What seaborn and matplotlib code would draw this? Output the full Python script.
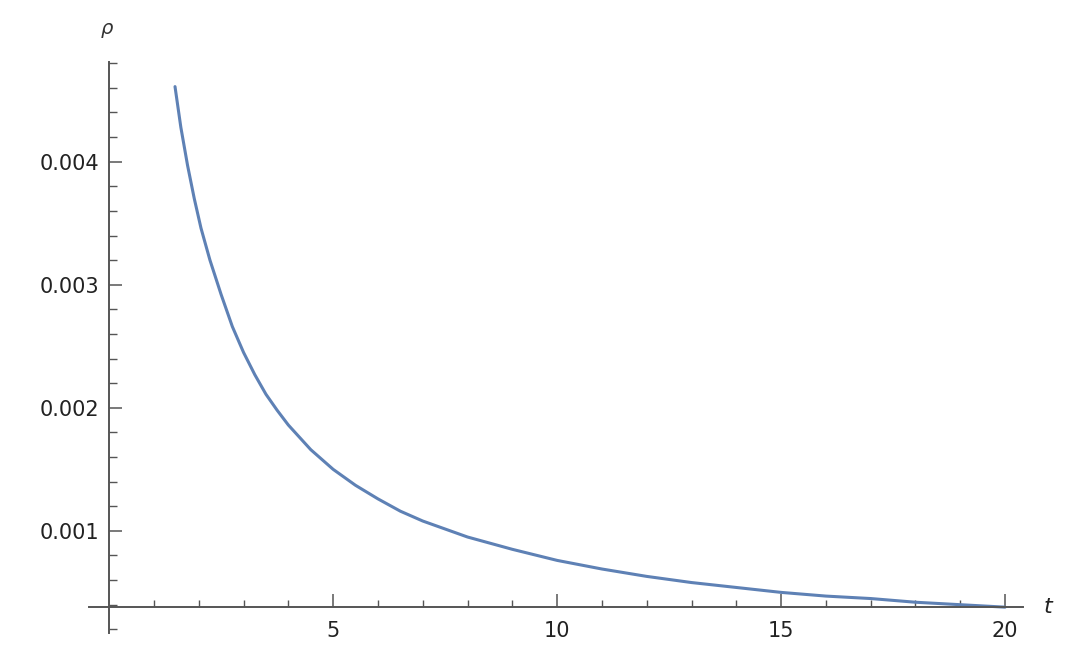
import numpy as np
import pandas as pd
import matplotlib
matplotlib.use("Agg")
import matplotlib.pyplot as plt
from matplotlib.ticker import FixedLocator
import seaborn as sns

# values
t_vals = [1.47, 1.6, 1.75, 1.9, 2.05, 2.25, 2.5, 2.75, 3.0, 3.25, 3.5, 3.75,
          4.0, 4.5, 5.0, 5.5, 6.0, 6.5, 7.0, 8.0, 9.0, 10.0, 11.0, 12.0,
          13.0, 14.0, 15.0, 16.0, 17.0, 18.0, 19.0, 20.0]
rho_vals = [0.00461, 0.00428, 0.00397, 0.00370, 0.00346, 0.00320, 0.00292,
            0.00266, 0.00245, 0.00227, 0.00211, 0.00198, 0.00186, 0.00166,
            0.00150, 0.00137, 0.00126, 0.00116, 0.00108, 0.00095, 0.00085,
            0.00076, 0.00069, 0.00063, 0.00058, 0.00054, 0.00050, 0.00047,
            0.00045, 0.00042, 0.00040, 0.00038]
x_major = [5, 10, 15, 20]
x_minor = [1, 2, 3, 4, 6, 7, 8, 9, 11, 12, 13, 14, 16, 17, 18, 19]
y_major = [0.001, 0.002, 0.003, 0.004]
y_labels = ["0.001", "0.002", "0.003", "0.004"]
y_minor = [0.0002, 0.0004, 0.0006, 0.0008, 0.0012, 0.0014, 0.0016, 0.0018,
           0.0022, 0.0024, 0.0026, 0.0028, 0.0032, 0.0034, 0.0036, 0.0038,
           0.0042, 0.0044, 0.0046, 0.0048]

df = pd.DataFrame({"t": t_vals, "rho": rho_vals})

sns.set_style("white")
plt.rcParams["font.family"] = ["DejaVu Sans"]

W, H = 1080, 661
fig = plt.figure(figsize=(W / 100, H / 100), dpi=100)
ax = fig.add_axes([89 / W, (H - 633) / H, (1023 - 89) / W, (633 - 62) / H])

axis_col = "#555555"
sns.lineplot(data=df, x="t", y="rho", ax=ax, color="#5E81B5", lw=2.2)

ax.set_xlim(-0.45, 20.4)
ax.set_ylim(0.00017, 0.00481)
ax.set_xlabel("")
ax.set_ylabel("")

x_origin = 0.0
y_origin = 0.000382
ax.spines["left"].set_position(("data", x_origin))
ax.spines["bottom"].set_position(("data", y_origin))
ax.spines["right"].set_visible(False)
ax.spines["top"].set_visible(False)
for s in ("left", "bottom"):
    ax.spines[s].set_color(axis_col)
    ax.spines[s].set_linewidth(1.4)

ax.xaxis.set_major_locator(FixedLocator(x_major))
ax.xaxis.set_minor_locator(FixedLocator(x_minor))
ax.yaxis.set_major_locator(FixedLocator(y_major))
ax.set_yticklabels(y_labels)
ax.yaxis.set_minor_locator(FixedLocator(y_minor))

ax.tick_params(which="both", bottom=True, left=True, top=False, right=False)
ax.tick_params(which="major", direction="in", length=9.4, width=1.1,
               color=axis_col, labelsize=15, labelcolor="#222222")
ax.tick_params(which="minor", direction="in", length=5.4, width=1.0,
               color=axis_col)
ax.tick_params(axis="x", which="major", pad=10)
ax.tick_params(axis="y", which="major", pad=7)

ax.annotate("ρ", xy=(x_origin, 1), xycoords=("data", "axes fraction"),
            xytext=(-2, 24), textcoords="offset points",
            ha="center", va="center", fontsize=14, style="italic",
            color="#333333")
ax.annotate("t", xy=(1, y_origin), xycoords=("axes fraction", "data"),
            xytext=(18, 0), textcoords="offset points",
            ha="center", va="center", fontsize=16, style="italic",
            color="#222222")

fig.savefig("out.png", dpi=100, facecolor="white")
